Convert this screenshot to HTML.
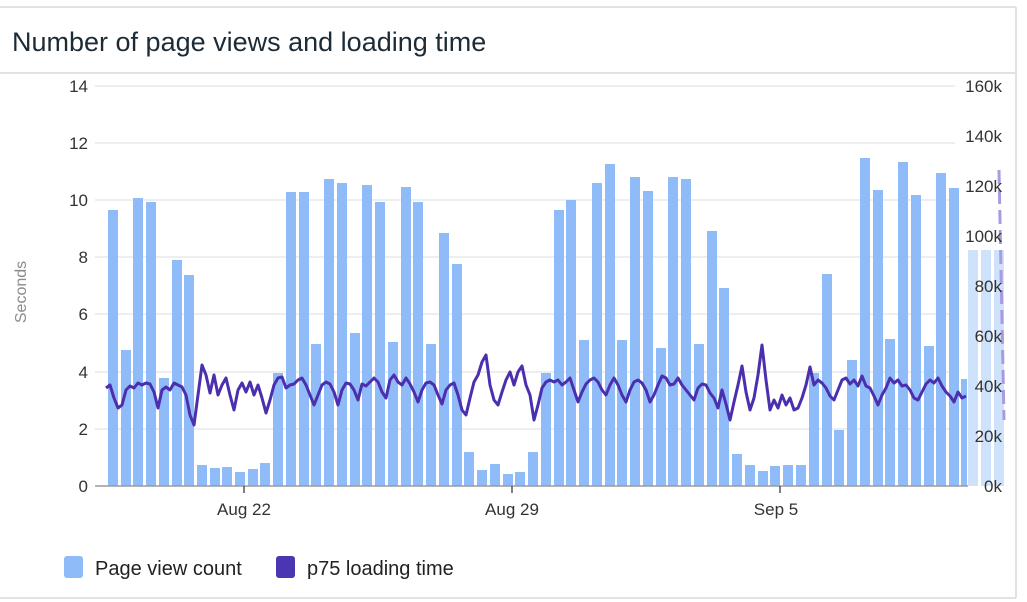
<!DOCTYPE html>
<html><head><meta charset="utf-8"><style>
html,body{margin:0;padding:0;background:#fff;}
body{width:1027px;height:602px;overflow:hidden;position:relative;font-family:"Liberation Sans","DejaVu Sans",sans-serif;}
</style></head><body>
<svg width="1027" height="602" viewBox="0 0 1027 602" xmlns="http://www.w3.org/2000/svg" style="position:absolute;left:0;top:0">
<line x1="0" y1="7" x2="1016" y2="7" stroke="#e2e2e5" stroke-width="2"/>
<line x1="1016" y1="7" x2="1016" y2="598" stroke="#e2e2e5" stroke-width="2"/>
<line x1="0" y1="73" x2="1016" y2="73" stroke="#e2e2e5" stroke-width="2"/>
<line x1="0" y1="598" x2="1016" y2="598" stroke="#e2e2e5" stroke-width="2"/>
<text x="12" y="51" font-size="27" fill="#1c2b36">Number of page views and loading time</text>
<g stroke="#e8e8e8" stroke-width="1.5">
<line x1="95" y1="86" x2="955" y2="86"/><line x1="95" y1="143" x2="955" y2="143"/>
<line x1="95" y1="200" x2="955" y2="200"/><line x1="95" y1="257" x2="955" y2="257"/>
<line x1="95" y1="314" x2="955" y2="314"/><line x1="95" y1="372" x2="955" y2="372"/>
<line x1="95" y1="429" x2="955" y2="429"/>
</g>
<g fill="#cfe2fb">
<rect x="968" y="250" width="10" height="236"/><rect x="981" y="250" width="10" height="236"/><rect x="994" y="250" width="10" height="236"/>
</g>
<g stroke="#a99be0" stroke-width="3" stroke-dasharray="14,6"><line x1="999" y1="170" x2="1004" y2="420"/></g>
<g fill="#8fbcf9">
<rect x="108" y="210" width="10" height="276"/><rect x="121" y="350" width="10" height="136"/><rect x="133" y="198" width="10" height="288"/><rect x="146" y="202" width="10" height="284"/><rect x="159" y="378" width="10" height="108"/><rect x="172" y="260" width="10" height="226"/><rect x="184" y="275" width="10" height="211"/><rect x="197" y="465" width="10" height="21"/><rect x="210" y="468" width="10" height="18"/><rect x="222" y="467" width="10" height="19"/><rect x="235" y="472" width="10" height="14"/><rect x="248" y="469" width="10" height="17"/><rect x="260" y="463" width="10" height="23"/><rect x="273" y="373" width="10" height="113"/><rect x="286" y="192" width="10" height="294"/><rect x="299" y="192" width="10" height="294"/><rect x="311" y="344" width="10" height="142"/><rect x="324" y="179" width="10" height="307"/><rect x="337" y="183" width="10" height="303"/><rect x="350" y="333" width="10" height="153"/><rect x="362" y="185" width="10" height="301"/><rect x="375" y="202" width="10" height="284"/><rect x="388" y="342" width="10" height="144"/><rect x="401" y="187" width="10" height="299"/><rect x="413" y="202" width="10" height="284"/><rect x="426" y="344" width="10" height="142"/><rect x="439" y="233" width="10" height="253"/><rect x="452" y="264" width="10" height="222"/><rect x="464" y="452" width="10" height="34"/><rect x="477" y="470" width="10" height="16"/><rect x="490" y="464" width="10" height="22"/><rect x="503" y="474" width="10" height="12"/><rect x="515" y="472" width="10" height="14"/><rect x="528" y="452" width="10" height="34"/><rect x="541" y="373" width="10" height="113"/><rect x="554" y="210" width="10" height="276"/><rect x="566" y="200" width="10" height="286"/><rect x="579" y="340" width="10" height="146"/><rect x="592" y="183" width="10" height="303"/><rect x="605" y="164" width="10" height="322"/><rect x="617" y="340" width="10" height="146"/><rect x="630" y="177" width="10" height="309"/><rect x="643" y="191" width="10" height="295"/><rect x="656" y="348" width="10" height="138"/><rect x="668" y="177" width="10" height="309"/><rect x="681" y="179" width="10" height="307"/><rect x="694" y="344" width="10" height="142"/><rect x="707" y="231" width="10" height="255"/><rect x="719" y="288" width="10" height="198"/><rect x="732" y="454" width="10" height="32"/><rect x="745" y="465" width="10" height="21"/><rect x="758" y="471" width="10" height="15"/><rect x="770" y="466" width="10" height="20"/><rect x="783" y="465" width="10" height="21"/><rect x="796" y="465" width="10" height="21"/><rect x="809" y="373" width="10" height="113"/><rect x="822" y="274" width="10" height="212"/><rect x="834" y="430" width="10" height="56"/><rect x="847" y="360" width="10" height="126"/><rect x="860" y="158" width="10" height="328"/><rect x="873" y="190" width="10" height="296"/><rect x="885" y="339" width="10" height="147"/><rect x="898" y="162" width="10" height="324"/><rect x="911" y="195" width="10" height="291"/><rect x="924" y="346" width="10" height="140"/><rect x="936" y="173" width="10" height="313"/><rect x="949" y="188" width="10" height="298"/><rect x="961" y="379" width="6" height="107"/>
</g>
<line x1="95" y1="486" x2="968" y2="486" stroke="#9a9a9a" stroke-width="1.5"/>
<g stroke="#555" stroke-width="1.5"><line x1="244" y1="486" x2="244" y2="493"/><line x1="512" y1="486" x2="512" y2="493"/><line x1="780" y1="486" x2="780" y2="493"/></g>
<polyline fill="none" stroke="#4b2fae" stroke-width="3" stroke-linejoin="round" points="106,388 110,385 114,398 118,408 122,405 126,390 130,386 134,388 138,383 142,385 146,383 150,384 154,392 158,408 162,390 166,387 170,390 174,383 178,385 182,387 186,395 190,415 194,425 198,395 202,365 206,375 210,393 214,375 218,395 222,385 226,378 230,395 234,410 238,390 242,383 246,392 250,382 254,395 258,385 262,398 266,413 270,400 274,385 278,378 282,377 286,388 290,385 294,384 298,380 302,378 306,385 310,395 314,405 318,395 322,385 326,382 330,384 334,392 338,405 342,390 346,383 350,384 354,390 358,400 362,384 366,386 370,382 374,378 378,382 382,392 386,398 390,380 394,375 398,382 402,385 406,378 410,384 414,392 418,402 422,390 426,383 430,382 434,385 438,395 442,404 446,390 450,385 454,383 458,395 462,410 466,415 470,398 474,382 478,375 482,362 486,355 490,385 494,400 498,405 502,392 506,380 510,372 514,385 518,372 522,366 526,385 530,395 534,420 538,405 542,388 546,382 550,380 554,382 558,380 562,385 566,382 570,378 574,390 578,402 582,392 586,384 590,380 594,378 598,382 602,390 606,395 610,385 614,378 618,385 622,395 626,402 630,390 634,382 638,380 642,383 646,390 650,402 654,395 658,385 662,376 666,378 670,385 674,384 678,378 682,385 686,390 690,395 694,400 698,388 702,384 706,385 710,393 714,398 718,408 722,390 726,404 730,420 734,402 738,385 742,366 746,392 750,410 754,398 758,375 762,345 766,380 770,410 774,400 778,408 782,395 786,405 790,398 794,410 798,408 802,398 806,385 810,367 814,385 818,380 822,383 826,388 830,396 834,400 838,390 842,380 846,378 850,384 854,380 858,386 862,376 866,386 870,388 874,396 878,405 882,395 886,388 890,378 894,383 898,380 902,386 906,385 910,390 914,398 918,400 922,392 926,384 930,380 934,383 938,378 942,386 946,392 950,396 954,402 958,392 962,398 966,396"/>
<g font-size="17" fill="#333" text-anchor="end">
<text x="88" y="92">14</text><text x="88" y="149">12</text><text x="88" y="206">10</text><text x="88" y="263">8</text><text x="88" y="320">6</text><text x="88" y="378">4</text><text x="88" y="435">2</text><text x="88" y="492">0</text>
</g>
<g font-size="17" fill="#333" text-anchor="end">
<text x="1002" y="92">160k</text><text x="1002" y="142">140k</text><text x="1002" y="192">120k</text><text x="1002" y="242">100k</text><text x="1002" y="292">80k</text><text x="1002" y="342">60k</text><text x="1002" y="392">40k</text><text x="1002" y="442">20k</text><text x="1002" y="492">0k</text>
</g>
<text transform="translate(26,292) rotate(-90)" font-size="16" fill="#8a8a8a" text-anchor="middle">Seconds</text>
<g font-size="17" fill="#333" text-anchor="middle">
<text x="244" y="515">Aug 22</text><text x="512" y="515">Aug 29</text><text x="776" y="515">Sep 5</text>
</g>
<rect x="64" y="556" width="19" height="22" rx="3" fill="#8fbcf9"/>
<text x="95" y="575" font-size="20" fill="#222">Page view count</text>
<rect x="276" y="556" width="19" height="22" rx="3" fill="#4b35b0"/>
<text x="307" y="575" font-size="20" fill="#222">p75 loading time</text>
</svg>
</body></html>
